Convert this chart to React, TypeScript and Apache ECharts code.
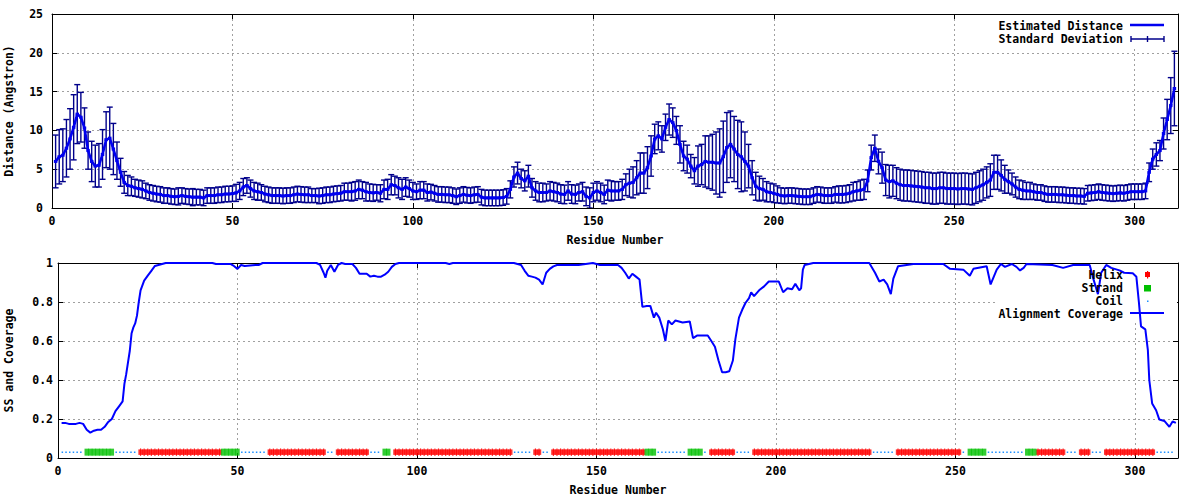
import React, { useEffect, useRef } from 'react';
import * as echarts from 'echarts';

// Estimated distance per residue (residue 1..311)
const distance = [
  6.0, 6.6, 6.8, 7.7, 8.9, 10.4, 12.1, 11.7, 10.3, 7.4,
  6.0, 5.4, 5.5, 6.9, 8.8, 9.0, 7.6, 6.1, 4.6, 3.3,
  2.9, 2.8, 2.6, 2.5, 2.4, 2.2, 2.0, 1.9, 1.8, 1.75,
  1.6, 1.6, 1.5, 1.45, 1.5, 1.6, 1.5, 1.45, 1.4, 1.4,
  1.4, 1.3, 1.6, 1.6, 1.6, 1.7, 1.7, 1.8, 1.8, 1.85,
  1.95, 2.2, 2.7, 2.9, 2.5, 2.2, 2.1, 2.0, 1.8, 1.7,
  1.6, 1.6, 1.6, 1.55, 1.6, 1.6, 1.7, 1.8, 1.75, 1.7,
  1.7, 1.6, 1.6, 1.55, 1.6, 1.7, 1.7, 1.8, 1.85, 1.9,
  2.1, 2.1, 2.1, 2.2, 2.4, 2.3, 2.1, 2.0, 1.95, 2.0,
  1.9, 2.4, 2.4, 3.0, 2.9, 2.6, 2.4, 2.7, 2.5, 2.2,
  2.1, 2.3, 2.3, 2.0, 2.05, 1.9, 1.75, 1.75, 1.7, 1.7,
  1.6, 1.45, 1.6, 1.75, 1.65, 1.6, 1.7, 1.75, 1.4, 1.3,
  1.3, 1.3, 1.3, 1.3, 1.35, 1.5, 2.4, 4.0, 4.5, 3.8,
  3.5, 4.1, 2.6, 2.2, 2.0, 2.0, 2.0, 2.2, 2.1, 2.0,
  1.8, 1.75, 2.2, 1.8, 1.75, 2.0, 2.1, 1.5, 1.3, 2.0,
  2.2, 2.0, 1.75, 2.3, 2.2, 2.2, 2.2, 2.4, 3.0, 3.2,
  3.3, 3.9, 4.5, 4.5, 5.2, 6.7, 8.9, 9.3, 8.9, 10.4,
  11.4, 11.0, 10.0, 8.2, 6.7, 6.3, 5.4, 4.8, 5.4, 5.6,
  6.0, 5.9, 5.9, 5.8, 5.8, 6.6, 7.8, 8.2, 7.6, 6.9,
  6.6, 6.0, 5.4, 3.9, 2.8, 2.5, 2.4, 2.1, 2.0, 1.9,
  1.75, 1.6, 1.55, 1.6, 1.6, 1.55, 1.5, 1.45, 1.45, 1.45,
  1.6, 1.75, 1.7, 1.6, 1.6, 1.6, 1.75, 1.75, 1.75, 1.8,
  1.9, 2.1, 2.2, 2.3, 2.4, 3.5, 6.5, 7.7, 6.0, 5.2,
  3.6, 3.4, 3.5, 3.2, 3.0, 2.9, 2.9, 2.85, 2.8, 2.75,
  2.7, 2.6, 2.6, 2.5, 2.5, 2.6, 2.6, 2.5, 2.5, 2.5,
  2.45, 2.5, 2.5, 2.45, 2.4, 2.6, 2.8, 3.0, 3.3, 3.6,
  4.6, 4.6, 4.2, 3.7, 3.4, 3.1, 2.7, 2.4, 2.3, 2.2,
  2.2, 2.1, 2.0, 2.0, 1.85, 1.75, 1.75, 1.75, 1.7, 1.7,
  1.65, 1.6, 1.6, 1.55, 1.55, 1.5, 1.9, 1.95, 2.0, 2.1,
  2.0, 1.95, 1.9, 1.85, 1.9, 1.95, 1.9, 2.0, 2.1, 2.1,
  2.1, 2.1, 2.2, 4.6, 6.3, 6.9, 7.4, 9.6, 11.4, 13.2, 15.4,
];

// Standard deviation per residue
const stdDev = [
  3.4, 3.5, 3.4, 3.7, 3.9, 4.2, 3.8, 3.2, 2.6, 2.4,
  2.6, 2.7, 2.8, 3.2, 3.6, 4.0, 3.3, 2.4, 1.8, 1.4,
  1.3, 1.2, 1.1, 1.1, 1.1, 1.0, 1.0, 1.0, 1.0, 1.0,
  1.0, 1.0, 1.0, 1.0, 1.1, 1.0, 1.0, 1.0, 1.1, 1.0,
  1.0, 1.0, 1.0, 1.0, 1.0, 1.0, 1.0, 1.0, 1.0, 1.0,
  1.1, 1.1, 1.1, 1.0, 1.1, 1.1, 1.1, 1.0, 1.0, 1.0,
  1.0, 1.0, 1.0, 1.0, 1.0, 1.0, 1.0, 1.0, 1.0, 1.0,
  1.0, 0.9, 0.9, 1.0, 1.0, 1.0, 1.0, 1.0, 1.0, 1.0,
  1.1, 1.1, 1.2, 1.2, 1.2, 1.1, 1.2, 1.1, 1.1, 1.0,
  1.1, 1.2, 1.3, 1.3, 1.2, 1.3, 1.3, 1.2, 1.1, 1.1,
  1.0, 1.1, 1.1, 1.1, 1.0, 1.0, 1.0, 1.0, 1.0, 1.0,
  1.0, 1.0, 1.0, 1.0, 1.0, 1.0, 1.0, 1.0, 1.0, 1.0,
  1.0, 1.0, 1.0, 1.0, 1.0, 1.0, 1.1, 1.3, 1.4, 1.2,
  1.3, 1.4, 1.2, 1.2, 1.2, 1.2, 1.1, 1.2, 1.2, 1.2,
  1.2, 1.2, 1.2, 1.2, 1.2, 1.1, 1.2, 1.2, 1.3, 1.2,
  1.2, 1.2, 1.2, 1.3, 1.3, 1.2, 1.2, 1.3, 1.4, 1.8,
  2.0, 2.2, 2.6, 2.6, 2.7, 2.6, 1.9, 1.8, 1.7, 1.7,
  2.0, 1.9, 1.8, 2.4, 1.9, 1.8, 1.5, 1.7, 2.6, 2.6,
  3.3, 3.4, 3.6, 4.0, 4.4, 4.6, 4.5, 4.3, 4.2, 4.4,
  4.5, 3.8, 2.8, 2.2, 1.8, 1.6, 1.4, 1.3, 1.2, 1.2,
  1.1, 1.0, 1.0, 1.0, 1.0, 1.0, 1.0, 1.0, 1.0, 1.0,
  1.0, 1.0, 1.0, 1.0, 1.0, 1.0, 1.0, 1.1, 1.1, 1.1,
  1.1, 1.2, 1.2, 1.3, 1.3, 1.4, 1.6, 1.7, 1.6, 2.0,
  2.0, 2.1, 2.0, 2.0, 2.0, 2.0, 2.0, 2.0, 2.0, 2.0,
  2.0, 2.0, 2.0, 2.0, 2.0, 2.0, 2.0, 2.0, 2.0, 2.0,
  2.0, 2.0, 2.0, 2.0, 2.0, 2.0, 2.0, 2.0, 2.0, 2.1,
  2.2, 2.2, 2.0, 1.8, 1.5, 1.4, 1.3, 1.2, 1.2, 1.1,
  1.1, 1.0, 1.0, 1.0, 1.0, 1.0, 1.0, 1.0, 1.0, 1.0,
  1.0, 1.0, 1.0, 1.0, 1.0, 1.0, 1.0, 1.0, 1.0, 1.0,
  1.0, 1.0, 1.0, 1.0, 1.0, 1.0, 1.0, 1.0, 1.0, 1.0,
  1.0, 1.0, 1.0, 1.2, 1.3, 1.5, 1.3, 2.0, 2.6, 3.6, 4.8,
];

// Alignment coverage [residue, coverage]
const coverage = [
  [1, 0.18], [2, 0.18], [3, 0.175], [4, 0.175], [5, 0.175], [6, 0.18], [7, 0.175], [8, 0.145],
  [9, 0.13], [10, 0.14], [11, 0.145], [12, 0.145], [13, 0.16], [14, 0.185], [15, 0.2], [16, 0.24],
  [17, 0.265], [18, 0.29], [18.5, 0.38], [19, 0.43], [19.5, 0.49], [20, 0.55], [20.5, 0.64],
  [21, 0.67], [21.5, 0.69], [22, 0.73], [22.5, 0.8], [23, 0.86], [24, 0.91], [25, 0.935],
  [26, 0.96], [27, 0.985], [28, 0.99], [29, 0.995], [30, 1.0], [43, 1.0], [44, 0.995], [48, 0.995],
  [49, 0.985], [50, 0.97], [51, 0.99], [52, 0.985], [55, 0.99], [56, 0.99], [57, 1.0], [72, 1.0],
  [73, 0.99], [74, 0.95], [74.5, 0.925], [75, 0.96], [76, 0.99], [77, 0.955], [78, 0.99], [79, 1.0],
  [80, 0.995], [82, 0.995], [83, 0.975], [84, 0.945], [86, 0.945], [87, 0.93], [88, 0.935],
  [89, 0.93], [90, 0.93], [91, 0.94], [92, 0.955], [93, 0.98], [94, 0.995], [95, 1.0], [108, 1.0],
  [109, 0.995], [110, 1.0], [127, 1.0], [128, 0.995], [129, 0.99], [130, 0.96], [131, 0.935],
  [132, 0.93], [133, 0.925], [134, 0.915], [135, 0.89], [136, 0.95], [137, 0.97], [138, 0.983],
  [139, 0.99], [145, 0.99], [147, 0.995], [149, 1.0], [150, 0.995], [151, 0.99], [156, 0.99],
  [157, 0.975], [158, 0.95], [159, 0.92], [160, 0.945], [161, 0.93], [162, 0.915], [162.8, 0.775],
  [164, 0.78], [165, 0.78], [166, 0.72], [166.6, 0.745], [167.5, 0.72], [168.5, 0.66], [169.2, 0.6],
  [170, 0.705], [171, 0.685], [172, 0.705], [173, 0.7], [174, 0.695], [176, 0.7], [176.9, 0.615],
  [178, 0.628], [181, 0.628], [182, 0.6], [183, 0.57], [184, 0.5], [185, 0.44], [186, 0.44],
  [187, 0.445], [188, 0.5], [188.7, 0.61], [189.7, 0.72], [190.6, 0.76], [191.5, 0.795],
  [192.5, 0.82], [193.1, 0.85], [193.9, 0.83], [195.3, 0.86], [196.7, 0.88], [198, 0.905],
  [200.8, 0.905], [202, 0.85], [203.2, 0.87], [204.5, 0.865], [205.4, 0.893], [206.5, 0.86],
  [207, 0.87], [207.5, 0.966], [208, 0.99], [210.4, 1.0], [226, 1.0], [227.6, 0.95], [228.8, 0.905],
  [230, 0.915], [231, 0.89], [232, 0.84], [232.7, 0.92], [234, 0.983], [236.4, 0.99],
  [238.3, 0.995], [246.6, 0.995], [248.5, 0.97], [252.2, 0.966], [254, 0.935], [255, 0.97],
  [258.7, 0.983], [259.8, 0.89], [261.5, 0.966], [262.7, 0.995], [263.8, 0.98], [265.7, 0.995],
  [267, 0.98], [268, 0.962], [269, 0.975], [269.8, 0.995], [277, 0.99], [280, 0.975],
  [282.8, 0.99], [287.4, 0.99], [288.4, 0.92], [289.7, 0.84], [290.6, 0.95], [292, 0.99],
  [293.4, 0.975], [295.7, 0.962], [297, 0.95], [299.4, 0.947], [300.4, 0.93], [301.1, 0.8],
  [301.7, 0.675], [302.9, 0.66], [303.6, 0.555], [304, 0.4], [304.8, 0.28], [305.9, 0.245],
  [306.8, 0.197], [308.2, 0.19], [309.6, 0.16], [310.5, 0.187], [311.4, 0.18],
];

// Secondary structure (residue ranges, inclusive)
const helixRanges = [
  [23, 45], [59, 74], [78, 86], [94, 126], [133, 134], [138, 163], [182, 188],
  [194, 226], [234, 251], [273, 280], [285, 287], [292, 305],
];
const strandRanges = [[8, 15], [46, 50], [91, 92], [164, 166], [176, 179], [254, 258], [270, 272]];
const ssLevel = 0.03;
const residueCount = 311;

const topTitleY = 'Distance (Angstron)';
const bottomTitleY = 'SS and Coverage';
const titleX = 'Residue Number';
const legendTop = ['Estimated Distance', 'Standard Deviation'];
const legendBottom = ['Helix', 'Strand', 'Coil', 'Alignment Coverage'];

const FONT = '"DejaVu Sans Mono", monospace';
const FS = 11.5;
const txt = { fontFamily: FONT, fontSize: FS, fontWeight: 'bold' as const, color: '#000' };
const GRID_LINE = { show: true, lineStyle: { color: '#a0a0a0', width: 1, type: [2, 3] } };

function expand(ranges: number[][]) {
  const out: number[][] = [];
  ranges.forEach(([a, b]) => {
    for (let r = a; r <= b; r++) out.push([r, ssLevel]);
  });
  return out;
}

export default function App() {
  const ref = useRef<HTMLDivElement>(null);
  useEffect(() => {
    document.body.style.margin = '0';
    const chart = echarts.init(ref.current!, null, { renderer: 'svg' });

    const distData = distance.map((d, i) => [i + 1, d]);
    const errData = distance.map((d, i) => [i + 1, d - stdDev[i], d + stdDev[i]]);
    const helixData = expand(helixRanges);
    const strandData = expand(strandRanges);
    const nonCoil = new Set<number>();
    [...helixData, ...strandData].forEach((p) => nonCoil.add(p[0]));
    const coilData: any[] = [];
    for (let r = 1; r <= residueCount; r++) {
      coilData.push(nonCoil.has(r) ? [r, null] : [r, ssLevel]);
    }

    const xMain = (gridIndex: number, withName: boolean) => ({
      type: 'value', gridIndex, min: 0, max: 312, interval: 50, position: 'bottom',
      name: withName ? titleX : '', nameLocation: 'middle', nameGap: 26,
      nameTextStyle: { ...txt },
      axisLine: { show: true, onZero: false, lineStyle: { color: '#000', width: 1 } },
      axisTick: { show: true, inside: true, length: 5, lineStyle: { color: '#000' } },
      axisLabel: { ...txt, margin: 7, showMaxLabel: false },
      splitLine: GRID_LINE,
    });
    const xMirror = (gridIndex: number) => ({
      type: 'value', gridIndex, min: 0, max: 312, interval: 50, position: 'top',
      axisLine: { show: true, onZero: false, lineStyle: { color: '#000', width: 1 } },
      axisTick: { show: true, inside: true, length: 5, lineStyle: { color: '#000' } },
      axisLabel: { show: false }, splitLine: { show: false },
    });
    const yMain = (gridIndex: number, max: number, interval: number, name: string, gap: number, margin: number) => ({
      type: 'value', gridIndex, min: 0, max, interval, position: 'left',
      name, nameLocation: 'middle', nameGap: gap, nameRotate: 90,
      nameTextStyle: { ...txt },
      axisLine: { show: true, onZero: false, lineStyle: { color: '#000', width: 1 } },
      axisTick: { show: true, inside: true, length: 5, lineStyle: { color: '#000' } },
      axisLabel: { ...txt, margin },
      splitLine: GRID_LINE,
    });
    const yMirror = (gridIndex: number, max: number, interval: number) => ({
      type: 'value', gridIndex, min: 0, max, interval, position: 'right',
      axisLine: { show: true, onZero: false, lineStyle: { color: '#000', width: 1 } },
      axisTick: { show: true, inside: true, length: 5, lineStyle: { color: '#000' } },
      axisLabel: { show: false }, splitLine: { show: false },
    });

    const tf = `bold ${FS}px ${FONT}`;
    const legendText = (s: string, y: number) => ({
      type: 'text', z: 100, x: 1123, y,
      style: { text: s, font: tf, fill: '#000', align: 'right', verticalAlign: 'middle' },
    });
    const seg = (x1: number, y1: number, x2: number, y2: number, stroke: string, lw: number) => ({
      type: 'line', z: 100, shape: { x1, y1, x2, y2 }, style: { stroke, lineWidth: lw },
    });

    const option: any = {
      animation: false,
      backgroundColor: '#fff',
      grid: [
        { left: 52, right: 22, top: 14, height: 194, outerBoundsMode: 'none', containLabel: false },
        { left: 58, right: 22, top: 263, height: 195, outerBoundsMode: 'none', containLabel: false },
      ],
      xAxis: [xMain(0, true), xMirror(0), xMain(1, true), xMirror(1)],
      yAxis: [
        yMain(0, 25, 5, topTitleY, 37, 9),
        yMirror(0, 25, 5),
        yMain(1, 1, 0.2, bottomTitleY, 43, 5),
        yMirror(1, 1, 0.2),
      ],
      series: [
        {
          type: 'custom', name: legendTop[1], xAxisIndex: 0, yAxisIndex: 0, z: 2, clip: true,
          data: errData, encode: { x: 0, y: [1, 2] },
          renderItem: (params: any, api: any) => {
            const x = api.value(0);
            const lo = api.coord([x, api.value(1)]);
            const hi = api.coord([x, api.value(2)]);
            const w = 3;
            const st = { stroke: '#00008b', lineWidth: 1.4 };
            return {
              type: 'group',
              children: [
                { type: 'line', shape: { x1: lo[0], y1: lo[1], x2: hi[0], y2: hi[1] }, style: st },
                { type: 'line', shape: { x1: lo[0] - w, y1: lo[1], x2: lo[0] + w, y2: lo[1] }, style: st },
                { type: 'line', shape: { x1: hi[0] - w, y1: hi[1], x2: hi[0] + w, y2: hi[1] }, style: st },
              ],
            };
          },
        },
        {
          type: 'line', name: legendTop[0], xAxisIndex: 0, yAxisIndex: 0, z: 3,
          data: distData, symbol: 'rect', symbolSize: [3.5, 3], showAllSymbol: true,
          itemStyle: { color: '#0000f0' },
          lineStyle: { color: '#0000f0', width: 2.6 },
        },
        {
          type: 'line', name: legendBottom[2], xAxisIndex: 2, yAxisIndex: 2, z: 3,
          data: coilData, symbol: 'none', connectNulls: false,
          lineStyle: { color: '#1e90ff', width: 1.5, type: [1.5, 2.2] },
        },
        {
          type: 'scatter', name: legendBottom[0], xAxisIndex: 2, yAxisIndex: 2, z: 4,
          data: helixData, symbol: 'rect', symbolSize: [4.4, 5.5],
          itemStyle: { color: '#ff0000' },
        },
        {
          type: 'scatter', name: legendBottom[0] + ' ticks', xAxisIndex: 2, yAxisIndex: 2, z: 4,
          data: helixData, symbol: 'rect', symbolSize: [1.2, 7.5],
          itemStyle: { color: '#ff0000' },
        },
        {
          type: 'scatter', name: legendBottom[1], xAxisIndex: 2, yAxisIndex: 2, z: 4,
          data: strandData, symbol: 'rect', symbolSize: [4.4, 7],
          itemStyle: { color: '#00c000' },
        },
        {
          type: 'line', name: legendBottom[3], xAxisIndex: 2, yAxisIndex: 2, z: 5,
          data: coverage, symbol: 'none', lineStyle: { color: '#0000ff', width: 2 },
        },
      ],
      graphic: [
        { type: 'rect', z: 1, shape: { x: 997, y: 15, width: 180, height: 32 }, style: { fill: '#fff' } },
        { type: 'rect', z: 1, shape: { x: 998, y: 264, width: 179, height: 57 }, style: { fill: '#fff' } },
        legendText(legendTop[0], 26),
        seg(1130, 25, 1164, 25, '#0000f0', 2.6),
        legendText(legendTop[1], 39),
        seg(1131, 39, 1164, 39, '#00008b', 1.4),
        seg(1131, 36, 1131, 42, '#00008b', 1.4),
        seg(1164, 36, 1164, 42, '#00008b', 1.4),
        seg(1147.5, 36, 1147.5, 42, '#00008b', 1.4),
        legendText(legendBottom[0], 275),
        { type: 'rect', z: 100, shape: { x: 1145, y: 272, width: 5, height: 5 }, style: { fill: '#ff0000' } },
        { type: 'rect', z: 100, shape: { x: 1147, y: 271, width: 1.2, height: 7.5 }, style: { fill: '#ff0000' } },
        legendText(legendBottom[1], 288),
        { type: 'rect', z: 100, shape: { x: 1144, y: 285, width: 7, height: 6.5 }, style: { fill: '#00c000' } },
        legendText(legendBottom[2], 301),
        { type: 'rect', z: 100, shape: { x: 1147, y: 300.5, width: 1.5, height: 1.5 }, style: { fill: '#1e90ff' } },
        legendText(legendBottom[3], 314),
        seg(1130, 313, 1164, 313, '#0000ff', 2),
      ],
    };
    chart.setOption(option);
    return () => chart.dispose();
  }, []);
  return <div ref={ref} style={{ width: 1200, height: 500 }} />;
}
